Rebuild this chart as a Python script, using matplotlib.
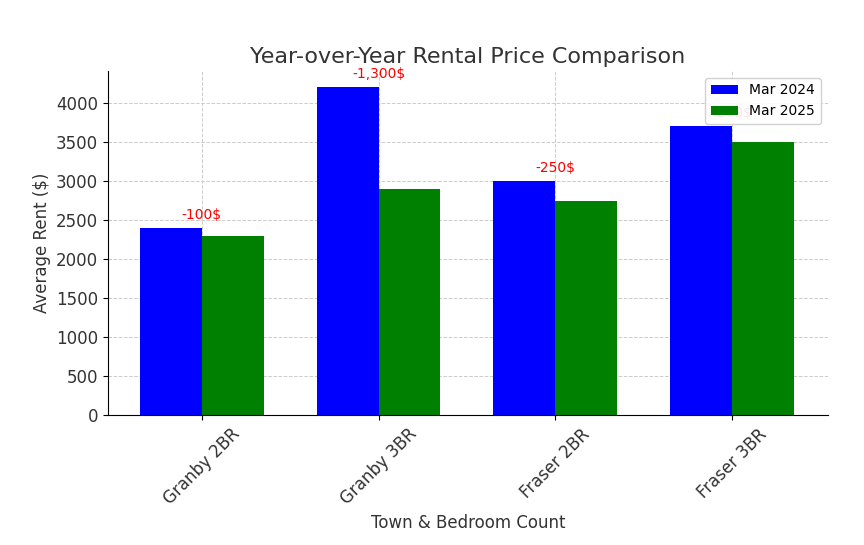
import matplotlib.pyplot as plt
import numpy as np

categories = ['Granby 2BR', 'Granby 3BR', 'Fraser 2BR', 'Fraser 3BR']
rent_2024 = [2400, 4200, 3000, 3700]
rent_2025 = [2300, 2900, 2750, 3500]
diff_labels = ['-100$', '-1,300$', '-250$', '-200$']

fig, ax = plt.subplots(figsize=(8.64, 5.45), dpi=100)
x = np.arange(len(categories))
w = 0.35

ax.bar(x - w/2, rent_2024, w, color='blue', label='Mar 2024', zorder=2)
ax.bar(x + w/2, rent_2025, w, color='green', label='Mar 2025', zorder=2)

for i in range(len(categories)):
    ax.text(x[i], rent_2024[i] + 80, diff_labels[i], color='red',
            ha='center', va='bottom', fontsize=10, zorder=1)

ax.set_title('Year-over-Year Rental Price Comparison', fontsize=16, color='#333333')
ax.set_xlabel('Town & Bedroom Count', fontsize=12, color='#333333')
ax.set_ylabel('Average Rent ($)', fontsize=12, color='#333333')
ax.set_xticks(x)
ax.set_xticklabels(categories, rotation=45, fontsize=12, color='#333333')
ax.set_yticks(np.arange(0, 4001, 500))
ax.tick_params(axis='y', labelsize=12, labelcolor='#333333')
ax.set_ylim(0, 4410)
ax.set_xlim(-0.53, 3.54)
ax.grid(True, linestyle='--', color='#cccccc', linewidth=0.7, zorder=0)
ax.set_axisbelow(True)
ax.spines['top'].set_visible(False)
ax.spines['right'].set_visible(False)
leg = ax.legend(loc='upper right', fontsize=10, framealpha=0.9)
leg.set_zorder(5)

plt.subplots_adjust(left=0.125, right=0.958, top=0.87, bottom=0.238)
plt.savefig('out.png')
